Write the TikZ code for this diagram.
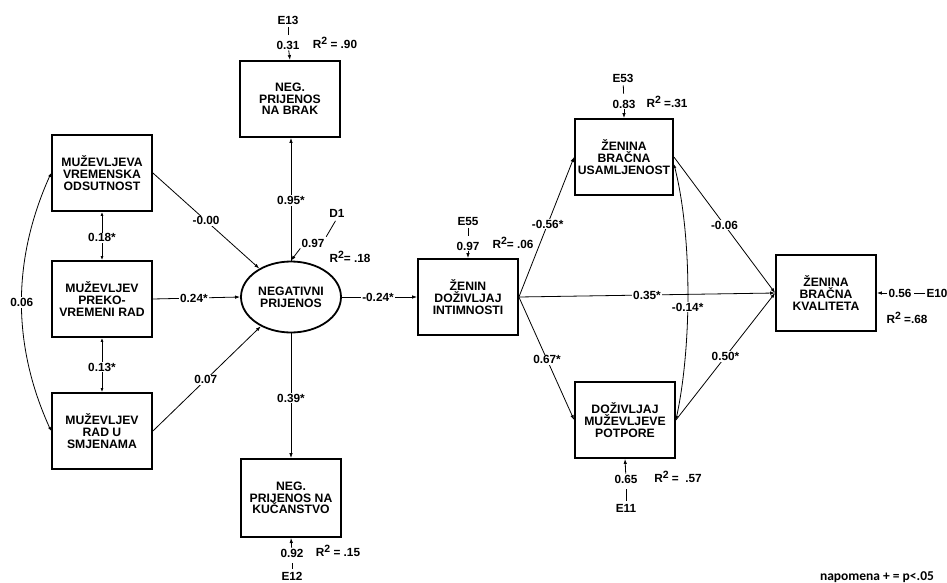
\documentclass[tikz,border=0pt]{standalone}
\usepackage{fontspec}
\setmainfont{Liberation Sans}
\newfontfamily\notefont{Carlito}
\usetikzlibrary{arrows.meta,shapes.geometric}
\newcommand{\Rsq}{R\raisebox{4.5pt}{\fontsize{10.5}{10.5}\selectfont 2}}
\begin{document}
\begin{tikzpicture}[x=1pt,y=-1pt,
 box/.style={draw, line width=1.8pt, minimum width=100pt, minimum height=76pt, inner sep=1pt, align=center, font=\fontsize{12.2}{11.6}\selectfont\bfseries},
 lab/.style={font=\fontsize{11.8}{12}\selectfont\bfseries, fill=white, inner sep=1pt},
 txt/.style={font=\fontsize{11.8}{12}\selectfont\bfseries, inner sep=1pt},
 arr/.style={line width=0.8pt, -{Latex[length=5pt,width=3.5pt]}},
 darr/.style={line width=0.8pt, {Latex[length=4pt,width=3pt]}-{Latex[length=4pt,width=3pt]}},
 tickline/.style={line width=0.8pt, shorten <=2pt, shorten >=5pt},
]
\useasboundingbox[fill=white] (0,0) rectangle (947,583);

% boxes
\node[box] (MV) at (102,173) {MUŽEVLJEVA\\VREMENSKA\\ODSUTNOST};
\node[box] (MP) at (102,299) {MUŽEVLJEV\\PREKO-\\VREMENI RAD};
\node[box] (MR) at (102,431) {MUŽEVLJEV\\RAD U\\SMJENAMA};
\node[box] (NB) at (290,99) {NEG.\\PRIJENOS\\NA BRAK};
\node[ellipse, draw, line width=1.8pt, minimum width=100pt, minimum height=71pt, inner sep=0pt, align=center, font=\fontsize{12.2}{11.6}\selectfont\bfseries] (NP) at (291,297) {NEGATIVNI\\PRIJENOS};
\node[box, minimum height=78pt] (NK) at (291,498) {NEG.\\PRIJENOS NA\\KUČANSTVO};
\node[box] (ZD) at (468,297) {ŽENIN\\DOŽIVLJAJ\\INTIMNOSTI};
\node[box, minimum width=98pt] (ZU) at (624,157) {ŽENINA\\BRAČNA\\USAMLJENOST};
\node[box] (DP) at (625,420) {DOŽIVLJAJ\\MUŽEVLJEVE\\POTPORE};
\node[box] (ZK) at (826,293) {ŽENINA\\BRAČNA\\KVALITETA};

% error terms
\node[txt] (E13) at (288,20) {E13};
\node[txt] (v13) at (288,45) {0.31};
\node[txt] (r13) at (335,43) {\Rsq\ = .90};
\node[txt] (D1) at (337,213) {D1};
\node[txt] (vD1) at (313,243) {0.97};
\node[txt] (rD1) at (350,257) {\Rsq= .18};
\node[txt] (E12) at (292,576) {E12};
\node[txt] (v12) at (292,553) {0.92};
\node[txt] (r12) at (338,551) {\Rsq\ = .15};
\node[txt] (E55) at (468,221) {E55};
\node[txt] (v55) at (468,246) {0.97};
\node[txt] (r55) at (513,243) {\Rsq= .06};
\node[txt] (E53) at (623,78) {E53};
\node[txt] (v53) at (624,104) {0.83};
\node[txt] (r53) at (667,102) {\Rsq\ =.31};
\node[txt] (E11) at (626,508) {E11};
\node[txt] (v11) at (626,479) {0.65};
\node[txt] (r11) at (678,477) {\Rsq\ =\ \ .57};
\node[txt] (E10) at (937,293) {E10};
\node[txt] (v10) at (900,293) {0.56};
\node[txt] (r10) at (907,318) {\Rsq\ =.68};

\draw[tickline] (E13) -- (v13);
\draw[arr] (v13) -- (NB.north);
\draw[line width=0.8pt, shorten <=3pt, shorten >=1pt] (D1.south) -- (vD1.north east);
\draw[arr] (vD1.south west) -- (NP.north);
\draw[tickline] (E12) -- (v12);
\draw[arr] (v12) -- (NK.south);
\draw[tickline] (E55) -- (v55);
\draw[arr] (v55) -- (ZD.north);
\draw[tickline] (E53) -- (v53);
\draw[arr] (v53) -- (ZU.north);
\draw[tickline] (E11) -- (v11);
\draw[arr] (v11) -- (DP.south);
\draw[line width=0.8pt, shorten >=1pt] (E10) -- (v10);
\draw[arr] (v10) -- (ZK.east);

% paths
\draw[arr] (MV.east) -- node[lab, pos=0.5] {-0.00} (NP);
\draw[arr] (MP.east) -- node[lab, pos=0.47] {0.24*} (NP.west);
\draw[arr] (MR.east) -- node[lab, pos=0.49] {0.07} (NP);
\draw[darr] (MV.south) -- node[lab, pos=0.54] {0.18*} (MP.north);
\draw[darr] (MP.south) -- node[lab, pos=0.54] {0.13*} (MR.north);
\draw[darr] (MV.west) .. controls (12,260) and (12,345) .. node[lab, pos=0.5] {0.06} (MR.west);
\draw[arr] (NP.north) -- node[lab, pos=0.49] {0.95*} (NP.north |- NB.south);
\draw[arr] (NP.south) -- node[lab, pos=0.52] {0.39*} (NP.south |- NK.north);
\draw[arr] (NP.east) -- node[lab, pos=0.48] {-0.24*} (ZD.west);
\draw[arr] (ZD.east) -- node[lab, pos=0.52] {-0.56*} (ZU.west);
\draw[arr] (ZD.east) -- node[lab, pos=0.5] {0.35*} (ZK.west);
\draw[arr] (ZD.east) -- node[lab, pos=0.51] {0.67*} (DP.west);
\draw[arr] (ZU.east) -- node[lab, pos=0.5] {-0.06} (ZK.west);
\draw[arr] (DP.east) -- node[lab, pos=0.5] {0.50*} (ZK.west);
\draw[darr] (ZU.-8) .. controls (692,235) and (692,345) .. node[lab, pos=0.56] {-0.14*} (DP.east);

\node[font=\notefont\bfseries\fontsize{13.5}{13.5}\selectfont, inner sep=0pt] (note) at (877,577) {napomena + = p<.05};
\end{tikzpicture}
\end{document}
